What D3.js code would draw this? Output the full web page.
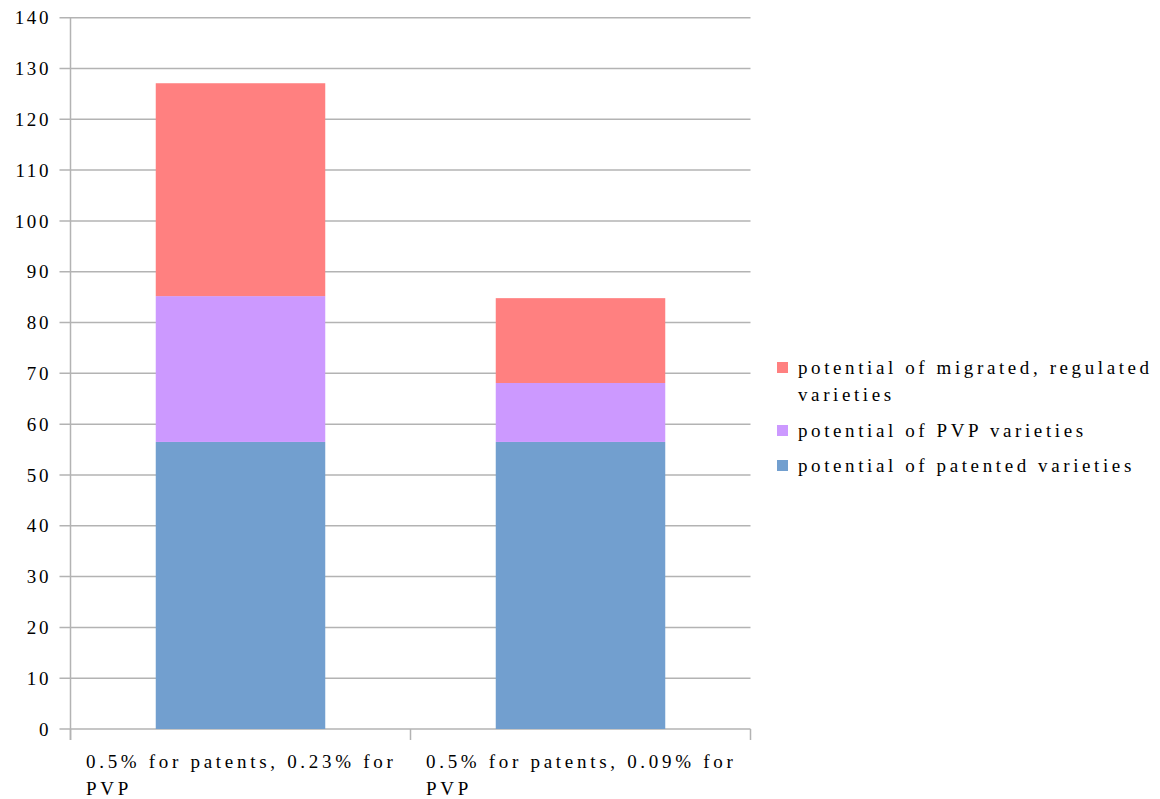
<!DOCTYPE html>
<html>
<head>
<meta charset="utf-8">
<script src="https://cdn.jsdelivr.net/npm/d3@7"></script>
<style>
  html, body { margin: 0; padding: 0; background: #fff; }
  svg text { font-family: "Liberation Serif", "DejaVu Serif", serif; fill: #000; }
</style>
</head>
<body>
<svg id="chart" width="1160" height="799"></svg>
<script>
// Scenario categories (x axis)
const categories = [
  "0.5% for patents, 0.23% for PVP",
  "0.5% for patents, 0.09% for PVP"
];
// Stacked series, bottom to top
const seriesNames = [
  "potential of patented varieties",
  "potential of PVP varieties",
  "potential of migrated, regulated varieties"
];
const patentedValues = [56.5, 56.5];
const pvpValues = [28.7, 11.6];
const migratedValues = [41.9, 16.7];
const yTicks = [0, 10, 20, 30, 40, 50, 60, 70, 80, 90, 100, 110, 120, 130, 140];

const colors = ["#729fcf", "#cc99ff", "#ff8080"];

const svg = d3.select("#chart");
const margin = { left: 70.5, top: 17.7, right: 750.5, bottom: 729 };

const rows = categories.map((c, i) => ({
  category: c,
  [seriesNames[0]]: patentedValues[i],
  [seriesNames[1]]: pvpValues[i],
  [seriesNames[2]]: migratedValues[i]
}));

const stacked = d3.stack().keys(seriesNames)(rows);

const x = d3.scaleBand()
  .domain(categories)
  .range([margin.left, margin.right])
  .paddingInner(0)
  .paddingOuter(0);

const y = d3.scaleLinear().domain([0, 140]).range([margin.bottom, margin.top]);

const gridColor = "#b3b3b3";

// horizontal gridlines
svg.append("g")
  .selectAll("line")
  .data(yTicks)
  .join("line")
  .attr("x1", margin.left - 11)
  .attr("x2", margin.right)
  .attr("y1", d => y(d))
  .attr("y2", d => y(d))
  .attr("stroke", gridColor)
  .attr("stroke-width", 1.5);

// y tick labels
svg.append("g")
  .selectAll("text")
  .data(yTicks)
  .join("text")
  .attr("x", 51)
  .attr("y", d => y(d))
  .attr("dy", "0.35em")
  .attr("text-anchor", "end")
  .style("font-size", "19px")
  .style("letter-spacing", "2.6px")
  .text(d => d);

// bars
const barWidth = 169.5;
svg.append("g")
  .selectAll("g")
  .data(stacked)
  .join("g")
  .attr("fill", (d, i) => colors[i])
  .selectAll("rect")
  .data(d => d)
  .join("rect")
  .attr("x", d => x(d.data.category) + (x.bandwidth() - barWidth) / 2)
  .attr("width", barWidth)
  .attr("y", d => y(d[1]))
  .attr("height", d => y(d[0]) - y(d[1]));

// axes lines
svg.append("line")
  .attr("x1", margin.left).attr("x2", margin.left)
  .attr("y1", margin.top).attr("y2", 740)
  .attr("stroke", gridColor).attr("stroke-width", 1.5);

const xTickPos = [margin.left, ...categories.map(c => x(c) + x.bandwidth())];
svg.append("g")
  .selectAll("line")
  .data(xTickPos)
  .join("line")
  .attr("x1", d => d).attr("x2", d => d)
  .attr("y1", margin.bottom).attr("y2", 740)
  .attr("stroke", gridColor).attr("stroke-width", 1.5);

// text wrapping helper
function wrap(textSel, width, lineHeight) {
  textSel.each(function () {
    const text = d3.select(this);
    const words = text.text().split(/\s+/);
    const x0 = text.attr("x");
    const y0 = text.attr("y");
    text.text(null);
    let line = [];
    let tspan = text.append("tspan").attr("x", x0).attr("y", y0);
    let lineNo = 0;
    words.forEach(w => {
      line.push(w);
      tspan.text(line.join(" "));
      if (tspan.node().getComputedTextLength() > width && line.length > 1) {
        line.pop();
        tspan.text(line.join(" "));
        line = [w];
        lineNo++;
        tspan = text.append("tspan").attr("x", x0).attr("y", +y0 + lineNo * lineHeight).text(w);
      }
    });
  });
}

// category labels
svg.append("g")
  .selectAll("text")
  .data(categories)
  .join("text")
  .attr("x", d => x(d) + 15.5)
  .attr("y", 768)
  .style("font-size", "19px")
  .style("letter-spacing", "3.7px")
  .text(d => d)
  .call(wrap, 335, 27);

// legend (top series first)
const legendItems = seriesNames.map((n, i) => ({ name: n, color: colors[i] })).reverse();
const legendY = [368, 431, 466];
const legend = svg.append("g");
legend.selectAll("rect")
  .data(legendItems)
  .join("rect")
  .attr("x", 777)
  .attr("y", (d, i) => legendY[i] - 6)
  .attr("width", 11)
  .attr("height", 11)
  .attr("fill", d => d.color);
legend.selectAll("text")
  .data(legendItems)
  .join("text")
  .attr("x", 798)
  .attr("y", (d, i) => legendY[i] + 6)
  .style("font-size", "19px")
  .style("letter-spacing", "3.6px")
  .text(d => d.name)
  .call(wrap, 370, 27);
</script>
</body>
</html>
